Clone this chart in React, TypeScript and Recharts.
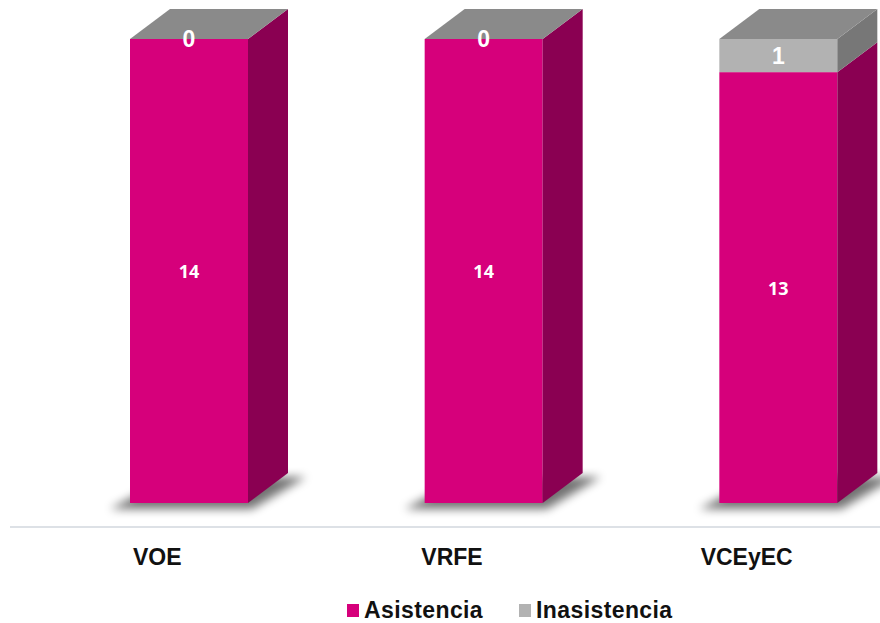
import { BarChart, Bar, XAxis, YAxis, LabelList } from 'recharts';

const categories = ['VOE', 'VRFE', 'VCEyEC'];
const asistencia = [14, 14, 13];
const inasistencia = [0, 0, 1];

const data = categories.map((name, i) => ({
  name,
  asistencia: asistencia[i],
  inasistencia: inasistencia[i],
}));

// fake 3D: front face shifted right, depth going up-right
const SHIFT = 32;
const DX = 40;
const DY = 30;

const PINK = '#d6007b';
const PINK_SIDE = '#8a0052';
const GRAY = '#b2b2b2';
const GRAY_SIDE = '#777777';
const GRAY_TOP = '#8a8a8a';

function PinkBox(props: any) {
  const { x, y, width, height } = props;
  const x0 = x + SHIFT;
  const b = y + height;
  return (
    <g>
      <polygon
        points={`${x0 - 20},${b + 6} ${x0 + width + 4},${b + 6} ${x0 + width + DX + 18},${b - DY + 4} ${x0 + DX},${b - DY + 4}`}
        fill="#000"
        opacity={0.55}
        filter="url(#shadowBlur)"
      />
      <rect x={x0} y={y} width={width} height={height} fill={PINK} />
      <polygon
        points={`${x0 + width},${y} ${x0 + width + DX},${y - DY} ${x0 + width + DX},${b - DY} ${x0 + width},${b}`}
        fill={PINK_SIDE}
      />
    </g>
  );
}

function GrayBox(props: any) {
  const { x, y, width, height } = props;
  const x0 = x + SHIFT;
  const b = y + height;
  return (
    <g>
      {height > 0 && <rect x={x0} y={y} width={width} height={height} fill={GRAY} />}
      {height > 0 && (
        <polygon
          points={`${x0 + width},${y} ${x0 + width + DX},${y - DY} ${x0 + width + DX},${b - DY} ${x0 + width},${b}`}
          fill={GRAY_SIDE}
        />
      )}
      <polygon
        points={`${x0},${y} ${x0 + DX},${y - DY} ${x0 + width + DX},${y - DY} ${x0 + width},${y}`}
        fill={GRAY_TOP}
      />
    </g>
  );
}

function makeLabel(size: number, family: string) {
  return (props: any) => {
    const { x, y, width, height, value } = props;
    return (
      <text
        x={x + SHIFT + width / 2}
        y={y + height / 2}
        textAnchor="middle"
        dominantBaseline="central"
        fill="#fff"
        fontSize={size}
        fontWeight="bold"
        fontFamily={family}
      >
        {value}
      </text>
    );
  };
}

function CategoryTick(props: any) {
  const { x, y, payload } = props;
  return (
    <text
      x={x}
      y={y + 54}
      textAnchor="middle"
      fontSize={23}
      fontWeight="bold"
      fontFamily="'Liberation Sans', Arial, sans-serif"
      fill="#111"
    >
      {payload.value}
    </text>
  );
}

export default function App() {
  return (
    <div
      style={{
        position: 'absolute',
        left: 0,
        top: 0,
        width: 880,
        height: 623,
        overflow: 'hidden',
        background: '#fff',
        fontFamily: "'Liberation Sans', Arial, sans-serif",
      }}
    >
      <BarChart
        width={894}
        height={623}
        data={data}
        margin={{ top: 39, right: 0, bottom: 0, left: 10 }}
        barSize={118}
      >
        <defs>
          <filter id="shadowBlur" x="-20%" y="-100%" width="140%" height="300%">
            <feGaussianBlur stdDeviation="5" />
          </filter>
        </defs>
        <XAxis
          dataKey="name"
          axisLine={false}
          tickLine={false}
          height={120}
          tick={<CategoryTick />}
          interval={0}
        />
        <YAxis hide domain={[0, 14]} />
        <Bar dataKey="asistencia" stackId="a" fill={PINK} shape={<PinkBox />} isAnimationActive={false}>
          <LabelList dataKey="asistencia" content={makeLabel(18, "'Open Sans', sans-serif")} />
        </Bar>
        <Bar dataKey="inasistencia" stackId="a" fill={GRAY} shape={<GrayBox />} isAnimationActive={false}>
          <LabelList dataKey="inasistencia" content={makeLabel(23, "'Liberation Sans', Arial, sans-serif")} />
        </Bar>
      </BarChart>
      <div
        style={{
          position: 'absolute',
          left: 10,
          top: 526,
          width: 870,
          height: 2,
          background: '#dde1e6',
        }}
      />
      <div
        style={{
          position: 'absolute',
          left: 347,
          top: 597,
          display: 'flex',
          alignItems: 'center',
          fontSize: 23,
          letterSpacing: 0.4,
          fontWeight: 'bold',
          color: '#111',
          whiteSpace: 'nowrap',
        }}
      >
        <span style={{ width: 12, height: 13, background: PINK, marginRight: 5 }} />
        <span>Asistencia</span>
        <span style={{ width: 12, height: 13, background: GRAY, marginLeft: 36, marginRight: 5 }} />
        <span>Inasistencia</span>
      </div>
    </div>
  );
}
